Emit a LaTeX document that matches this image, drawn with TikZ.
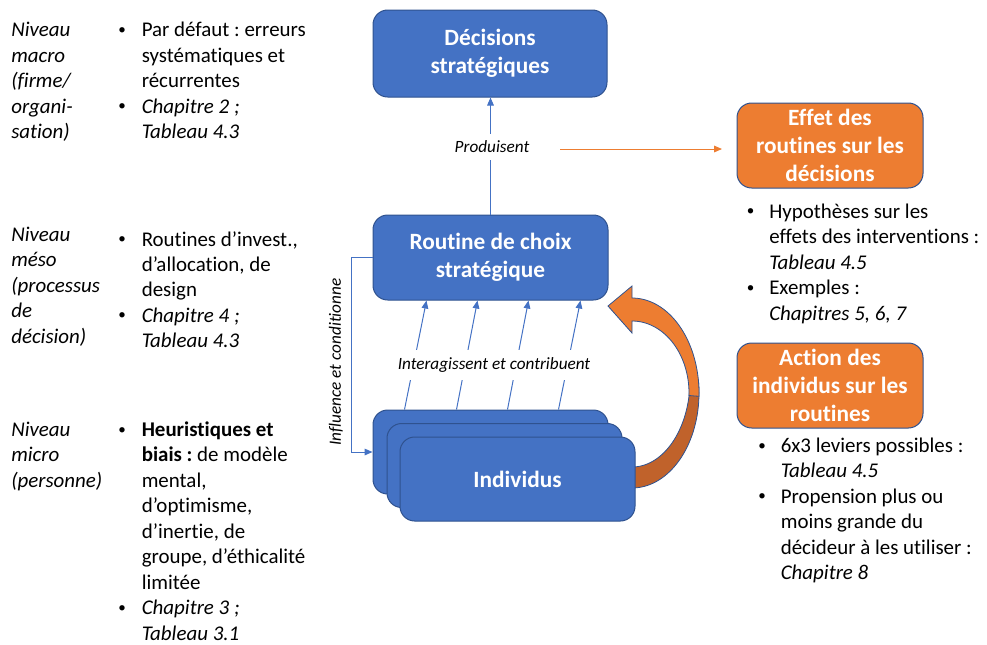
\documentclass[tikz,border=0pt]{standalone}
\usepackage{fontspec}
\setmainfont{Carlito}[Ligatures={NoCommon}]
\usetikzlibrary{arrows.meta,calc}
\definecolor{blueF}{HTML}{4472C4}
\definecolor{blueD}{HTML}{2F528F}
\definecolor{orL}{HTML}{ED7D31}
\definecolor{orD}{HTML}{C0622B}
\frenchspacing
\newcommand\mybul{\raisebox{0.12em}{\scalebox{0.72}{•}}}
\newcommand\bitem[2]{\par\noindent\hangindent=#1\hangafter=1\makebox[#1][l]{\hspace{0.08em}\mybul}#2}
\newcommand\bodyfont{\fontsize{15.7}{19.1}\selectfont}
\begin{document}
\begin{tikzpicture}[x=0.75pt,y=-0.75pt,
 bbox/.style={rectangle, rounded corners=11pt, draw=blueD, line width=0.75pt, fill=blueF, text=white,
   font=\fontsize{17.5}{21}\selectfont\bfseries, align=center, minimum width=176.25pt, minimum height=63.75pt, inner sep=2pt},
 obox/.style={bbox, fill=orL, minimum width=139.5pt},
 conn/.style={draw=blueF, line width=0.75pt, -{Triangle[length=6pt,width=5pt]}},
 oconn/.style={draw=orL, line width=0.75pt, -{Triangle[length=6pt,width=5pt]}},
 lbl/.style={font=\fontsize{12.9}{15}\selectfont\itshape, fill=white, inner xsep=2pt},
 txt/.style={anchor=base west, inner sep=0pt},
]
\useasboundingbox (0,0) rectangle (987,644);

% boxes
\node[bbox, minimum width=175.5pt, minimum height=65.25pt] (dec) at (490,53.5) {Décisions\\stratégiques};
\node[bbox] (rout) at (490.5,257.5) {Routine de choix\\stratégique};

% dark part of curved arrow (behind)
\filldraw[fill=orD, draw=blueD, line width=0.6pt]
  plot[domain=-8:95, samples=40] ({632+67*cos(\x)},{393+95*sin(\x)})
  -- plot[domain=92:-8, samples=40] ({632+58*cos(\x)},{380+87*sin(\x)}) -- cycle;

\node[bbox, minimum height=63pt] (b1) at (490.5,452) {};
\node[bbox, minimum height=63pt] (b2) at (504.5,465.5) {};
\node[bbox, minimum height=63pt] (b3) at (517.5,479) {Individus};

% light part of curved arrow
\filldraw[fill=orL, draw=blueD, line width=0.6pt]
  (632,298) -- plot[domain=-90:2, samples=40] ({632+67*cos(\x)},{393+95*sin(\x)})
  -- plot[domain=2:-90, samples=40] ({632+57*cos(\x)},{393+72*sin(\x)})
  -- (632,333) -- (608,306) -- (632,286) -- cycle;

\node[obox] (effet) at (830,145.5) {Effet des\\routines sur les\\décisions};
\node[obox] (action) at (830,385.5) {Action des\\individus sur les\\routines};

% connectors
\draw[conn] (rout.north) -- (rout.north |- dec.south);
\node[lbl, inner ysep=5pt] (prod) at (492,147) {Produisent};
\coordinate (oa) at (560,149);
\coordinate (ob) at (722,149);
\draw[oconn] (oa) -- (ob);

\draw[conn] (rout.west) -- ++(-21,0) |- (b1.west);
\node[lbl, fill=none, rotate=90] (infl) at (336,362) {Influence et conditionne};

\foreach \a/\b in {32/54, 84/105, 135/156, 186/208}
  \draw[conn] ($(b1.north west)+(\a,0)$) -- ($(rout.south west)+(\b,0)$);
\node[lbl, inner ysep=6pt] (inter) at (494,365) {Interagissent et contribuent};

% left column
\node[txt] (lvl1) at (11,36.7) {\parbox[t]{100pt}{\bodyfont\itshape Niveau\\macro\\(firme/\\organi-\\sation)}};
\node[txt] (bl1) at (116.5,36.7) {\parbox[t]{200pt}{\bodyfont
  \bitem{18.75pt}{Par défaut : erreurs\\systématiques et\\récurrentes}
  \bitem{18.75pt}{{\itshape Chapitre 2 ;\\Tableau 4.3}}}};

\node[txt] (lvl2) at (11,241.5) {\parbox[t]{100pt}{\bodyfont\itshape Niveau\\méso\\(processus\\de\\décision)}};
\node[txt] (bl2) at (116.5,246) {\parbox[t]{200pt}{\bodyfont
  \bitem{18.75pt}{Routines d’invest.,\\d’allocation, de\\design}
  \bitem{18.75pt}{{\itshape Chapitre 4 ;\\Tableau 4.3}}}};

\node[txt] (lvl3) at (11,436.5) {\parbox[t]{100pt}{\bodyfont\itshape Niveau\\micro\\(personne)}};
\node[txt] (bl3) at (116.5,436.5) {\parbox[t]{200pt}{\bodyfont
  \bitem{18.75pt}{\textbf{Heuristiques et\\biais :} de modèle\\mental,\\d’optimisme,\\d’inertie, de\\groupe, d’éthicalité\\limitée}
  \bitem{18.75pt}{{\itshape Chapitre 3 ;\\Tableau 3.1}}}};

% right column
\node[txt] (br1) at (745,218.5) {\parbox[t]{230pt}{\bodyfont
  \bitem{18pt}{Hypothèses sur les\\effets des interventions :\\\textit{Tableau 4.5}}
  \bitem{18pt}{Exemples :\\\textit{Chapitres 5, 6, 7}}}};
\node[txt] (br2) at (756.5,452.5) {\parbox[t]{230pt}{\bodyfont
  \bitem{18pt}{6x3 leviers possibles :\\\textit{Tableau 4.5}}
  \bitem{18pt}{Propension plus ou\\moins grande du\\décideur à les utiliser :\\\textit{Chapitre 8}}}};
\end{tikzpicture}
\end{document}
